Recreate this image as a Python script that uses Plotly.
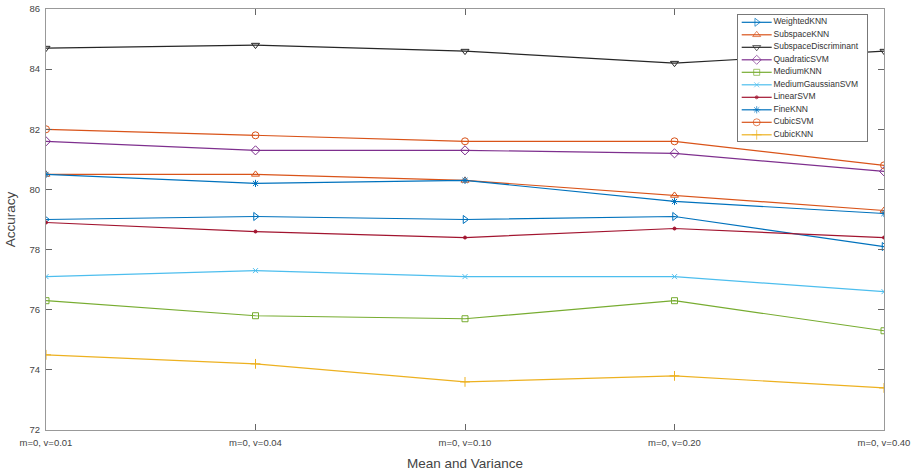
import plotly.graph_objects as go

categories = ["m=0, v=0.01", "m=0, v=0.04", "m=0, v=0.10", "m=0, v=0.20", "m=0, v=0.40"]

weighted_knn = [79.0, 79.1, 79.0, 79.1, 78.1]
subspace_knn = [80.5, 80.5, 80.3, 79.8, 79.3]
subspace_discriminant = [84.7, 84.8, 84.6, 84.2, 84.6]
quadratic_svm = [81.6, 81.3, 81.3, 81.2, 80.6]
medium_knn = [76.3, 75.8, 75.7, 76.3, 75.3]
medium_gaussian_svm = [77.1, 77.3, 77.1, 77.1, 76.6]
linear_svm = [78.9, 78.6, 78.4, 78.7, 78.4]
fine_knn = [80.5, 80.2, 80.3, 79.6, 79.2]
cubic_svm = [82.0, 81.8, 81.6, 81.6, 80.8]
cubic_knn = [74.5, 74.2, 73.6, 73.8, 73.4]

y_ticks = [72, 74, 76, 78, 80, 82, 84, 86]

series_names = ["WeightedKNN", "SubspaceKNN", "SubspaceDiscriminant", "QuadraticSVM",
                "MediumKNN", "MediumGaussianSVM", "LinearSVM", "FineKNN", "CubicSVM", "CubicKNN"]
series_values = [weighted_knn, subspace_knn, subspace_discriminant, quadratic_svm,
                 medium_knn, medium_gaussian_svm, linear_svm, fine_knn, cubic_svm, cubic_knn]

styles = [
    ("#0072BD", "triangle-right-open", 7),
    ("#D95319", "triangle-up-open", 7),
    ("#262626", "triangle-down-open", 7),
    ("#7E2F8E", "diamond-open", 7),
    ("#77AC30", "square-open", 6),
    ("#4DBEEE", "x-thin-open", 5),
    ("#A2142F", "circle", 3),
    ("#0072BD", "asterisk-open", 6),
    ("#D95319", "circle-open", 7),
    ("#EDB120", "cross-thin-open", 7),
]

fig = go.Figure()
for name, vals, (color, sym, size) in zip(series_names, series_values, styles):
    fig.add_trace(go.Scatter(
        x=categories, y=vals, name=name, mode="lines+markers",
        line=dict(color=color, width=1.2),
        marker=dict(symbol=sym, size=size, color=color, line=dict(color=color, width=1)),
        showlegend=False, xaxis="x", yaxis="y",
    ))

# Compact MATLAB-style legend drawn in an auxiliary subplot (box units ~ pixels)
LW, LH = 129, 126
line_x0, line_x1, text_x = 3.7, 33.7, 35.5
row0, row_step = 7.3, 12.5
for i, (name, (color, sym, size)) in enumerate(zip(series_names, styles)):
    yy = row0 + row_step * i
    fig.add_trace(go.Scatter(
        x=[line_x0, (line_x0 + line_x1) / 2, line_x1], y=[yy, yy, yy],
        mode="lines+markers", line=dict(color=color, width=1.2),
        marker=dict(symbol=sym, size=[0, size, 0], color=color, line=dict(color=color, width=1)),
        showlegend=False, hoverinfo="skip", xaxis="x2", yaxis="y2",
    ))
    fig.add_trace(go.Scatter(
        x=[text_x], y=[yy], mode="text", text=[name], textposition="middle right",
        textfont=dict(size=8.5, color="#333333"),
        showlegend=False, hoverinfo="skip", xaxis="x2", yaxis="y2",
    ))

fig.add_shape(type="rect", xref="x2 domain", yref="y2 domain", x0=0, x1=1, y0=0, y1=1,
              fillcolor="white", line=dict(width=0), layer="below")

plot_l, plot_r, plot_t, plot_b = 46, 884, 9, 430
pw, ph = plot_r - plot_l, plot_b - plot_t
leg_l, leg_t = 738, 15
xd = [(leg_l - plot_l) / pw, (leg_l + LW - plot_l) / pw]
yd = [(plot_b - leg_t - LH) / ph, (plot_b - leg_t) / ph]

axis_color = "#999999"
tick_color = "#666666"
fig.update_layout(
    width=918, height=475,
    margin=dict(l=plot_l, r=918 - plot_r, t=plot_t, b=475 - plot_b),
    paper_bgcolor="white", plot_bgcolor="white",
    font=dict(family="Liberation Sans, Arial, sans-serif", color="#333333", size=9),
    xaxis=dict(
        type="category", range=[0, 4], showgrid=False, zeroline=False, automargin=False,
        showline=True, linecolor=axis_color, linewidth=1.2, mirror="ticks",
        ticks="inside", ticklen=6, tickcolor=tick_color, ticklabelstandoff=3,
        tickfont=dict(size=9.5, color="#444444"),
        title=dict(text="Mean and Variance", font=dict(size=13.5, color="#444444"), standoff=12),
    ),
    yaxis=dict(
        range=[72, 86], tickvals=y_ticks, showgrid=False, zeroline=False, automargin=False,
        showline=True, linecolor=axis_color, linewidth=1.2, mirror="ticks",
        ticks="inside", ticklen=6, tickcolor=tick_color, ticklabelstandoff=3,
        tickfont=dict(size=9.5, color="#444444"),
        title=dict(text="Accuracy", font=dict(size=13.5, color="#444444"), standoff=10),
    ),
    xaxis2=dict(domain=xd, range=[0, LW], anchor="y2", showgrid=False, zeroline=False,
                showticklabels=False, ticks="", showline=True, mirror=True,
                linecolor="#777777", linewidth=1, fixedrange=True),
    yaxis2=dict(domain=yd, range=[LH, 0], anchor="x2", showgrid=False, zeroline=False,
                showticklabels=False, ticks="", showline=True, mirror=True,
                linecolor="#777777", linewidth=1, fixedrange=True),
)

fig.write_html("out.html", config={"displayModeBar": False},
               post_script="document.body.style.margin='0';document.body.style.overflow='hidden';")
